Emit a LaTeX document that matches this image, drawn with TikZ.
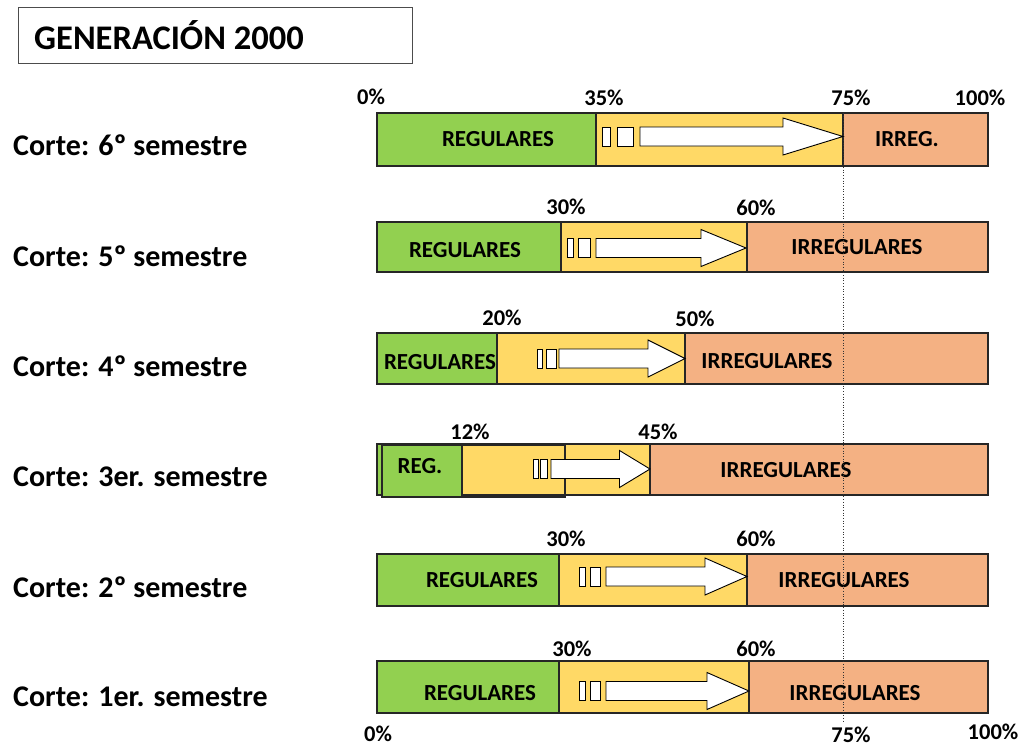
\documentclass[tikz,border=0pt]{standalone}
\usepackage{fontspec}
\setmainfont{Carlito}
\definecolor{gr}{HTML}{92D050}
\definecolor{ye}{HTML}{FFD966}
\definecolor{orr}{HTML}{F4B183}
\newcommand\segbox[5]{\draw[segline,fill=#5] (#1,#3) rectangle (#2,#4);}
% arrow: r1a r1b r2a r2b shaftstart headstart tip ycenter
\newcommand\barrow[8]{%
  \draw[arrline,fill=white] (#1,#8-9.5) rectangle (#2,#8+9.5);
  \draw[arrline,fill=white] (#3,#8-9.5) rectangle (#4,#8+9.5);
  \draw[arrline,fill=white] (#5,#8-9.5) -- (#6,#8-9.5) -- (#6,#8-18.5) -- (#7,#8) -- (#6,#8+18.5) -- (#6,#8+9.5) -- (#5,#8+9.5) -- cycle;}
\begin{document}
\begin{tikzpicture}[x=1pt,y=-1pt,
  segline/.style={draw=black!85,line width=1.3pt},
  arrline/.style={draw=black,line width=0.9pt},
  inlab/.style={font=\fontsize{23}{27}\selectfont\bfseries,inner sep=0pt},
  pct/.style={font=\fontsize{22.5}{26}\selectfont\bfseries,inner sep=0pt},
  rowlab/.style={font=\fontsize{30}{34}\selectfont\bfseries,inner sep=0pt,anchor=west},
  title/.style={draw=black!70,line width=0.8pt,minimum width=394pt,minimum height=56pt,inner sep=0pt}]
\useasboundingbox (0,0) rectangle (1031,747);

% title
\node[title] (ttl) at (215,35) {};
\node[font=\fontsize{34.5}{40}\selectfont\bfseries,anchor=west,inner sep=0pt] (ttltxt) at (34,35) {GENERACIÓN 2000};

% row labels
\node[rowlab] (r6) at (13,145) {Corte: 6º semestre};
\node[rowlab] (r5) at (13,256) {Corte: 5º semestre};
\node[rowlab] (r4) at (13,366) {Corte: 4º semestre};
\node[rowlab] (r3) at (13,477) {Corte: 3er. semestre};
\node[rowlab] (r2) at (13,587) {Corte: 2º semestre};
\node[rowlab] (r1) at (13,697) {Corte: 1er. semestre};

% Bar 1 (6º)
\segbox{377}{596}{113}{166}{gr}
\segbox{596}{843}{113}{166}{ye}
\segbox{843}{988}{113}{166}{orr}
\barrow{602}{610}{617}{633}{640}{783}{843}{136.5}
\node[inlab] (b1g) at (498,139) {REGULARES};
\node[inlab] (b1o) at (907,139) {IRREG.};
\node[pct] (p1a) at (371,97) {0\%};
\node[pct] (p1b) at (604,98) {35\%};
\node[pct] (p1c) at (851,98) {75\%};
\node[pct] (p1d) at (980,98) {100\%};

% Bar 2 (5º)
\segbox{377}{561}{222}{272}{gr}
\segbox{561}{747}{222}{272}{ye}
\segbox{747}{988}{222}{272}{orr}
\barrow{567.5}{573}{578.5}{590}{596}{701}{746}{248}
\node[inlab] (b2g) at (465,250) {REGULARES};
\node[inlab] (b2o) at (857,247) {IRREGULARES};
\node[pct] (p2a) at (566,207) {30\%};
\node[pct] (p2b) at (756,208) {60\%};

% Bar 3 (4º)
\segbox{377}{497}{333}{384}{gr}
\segbox{497}{685}{333}{384}{ye}
\segbox{685}{988}{333}{384}{orr}
\barrow{537}{542}{546}{556}{559}{648}{685}{358.5}
\node[inlab] (b3g) at (440,362) {REGULARES};
\node[inlab] (b3o) at (767,361) {IRREGULARES};
\node[pct] (p3a) at (502,318) {20\%};
\node[pct] (p3b) at (695,319) {50\%};

% Bar 4 (3er)
\segbox{377}{650}{444}{495}{gr}
\segbox{650}{988}{444}{495}{orr}
\fill[ye] (462,445) rectangle (650,494);
\draw[segline] (377,444) rectangle (988,495);
\draw[segline] (650,444) -- (650,495);
\draw[segline,fill=gr] (382,445.5) rectangle (462,497);
\draw[segline] (462,445.5) rectangle (565,497);
\barrow{533}{538}{540}{547}{551}{619.5}{650}{469}
\node[inlab] (b4g) at (420,466) {REG.};
\node[inlab] (b4o) at (786,470) {IRREGULARES};
\node[pct] (p4a) at (470,432) {12\%};
\node[pct] (p4b) at (658,432) {45\%};

% Bar 5 (2º)
\segbox{377}{559}{554}{606}{gr}
\segbox{559}{747}{554}{606}{ye}
\segbox{747}{988}{554}{606}{orr}
\barrow{579}{585}{590}{600}{606}{705}{747}{576.5}
\node[inlab] (b5g) at (482,580) {REGULARES};
\node[inlab] (b5o) at (844,580) {IRREGULARES};
\node[pct] (p5a) at (566,539) {30\%};
\node[pct] (p5b) at (756,539) {60\%};

% Bar 6 (1er)
\segbox{377}{559}{661}{713}{gr}
\segbox{559}{749}{661}{713}{ye}
\segbox{749}{988}{661}{713}{orr}
\barrow{579}{585}{590}{600}{606}{707}{749}{691}
\node[inlab] (b6g) at (480,693) {REGULARES};
\node[inlab] (b6o) at (855,693) {IRREGULARES};
\node[pct] (p6a) at (572,649) {30\%};
\node[pct] (p6b) at (756,649) {60\%};
\node[pct] (q1) at (378,734) {0\%};
\node[pct] (q2) at (851,735) {75\%};
\node[pct] (q3) at (993,732) {100\%};

% 75% reference line
\coordinate (d1) at (843,113);
\coordinate (d2) at (843,723);
\draw[black!80,line width=0.7pt,dotted] (d1) -- (d2);
\end{tikzpicture}
\end{document}
